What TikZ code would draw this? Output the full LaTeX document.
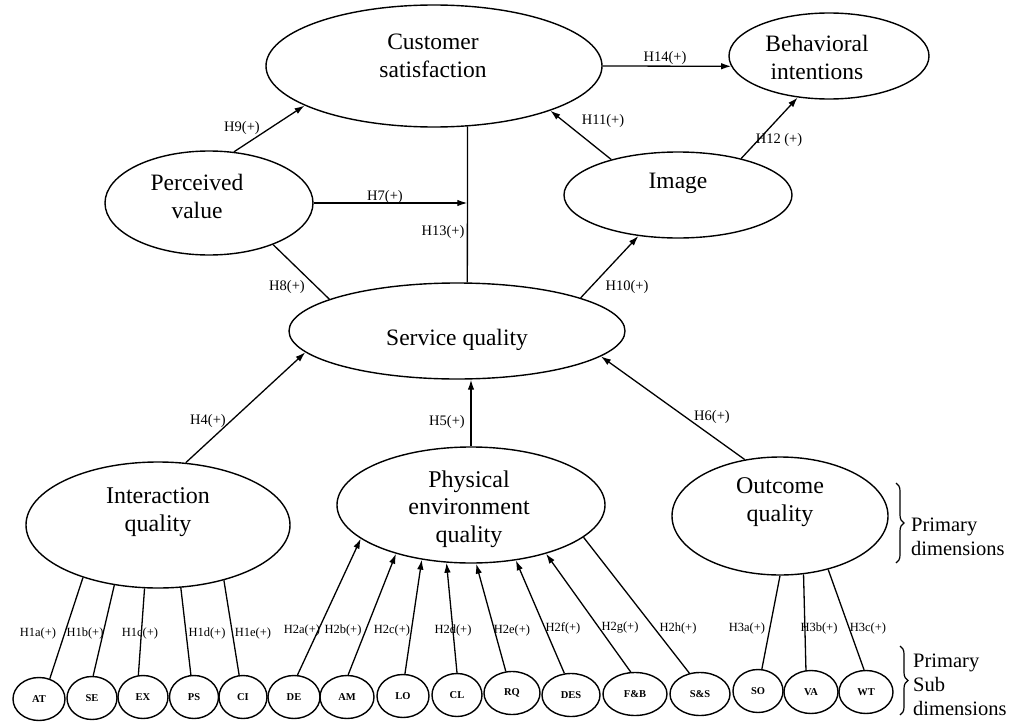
\documentclass[tikz,border=0pt]{standalone}
\usepackage{fontspec}
\setmainfont{Liberation Serif}
\usetikzlibrary{arrows.meta,decorations.pathreplacing,shapes.geometric}
\begin{document}
\begin{tikzpicture}[x=1pt,y=-1pt,
  ell/.style={draw,ellipse,line width=1.4pt,inner sep=0pt},
  big/.style={font=\fontsize{23.5}{28}\selectfont,align=center,inner sep=0pt},
  mid/.style={font=\fontsize{24}{28.5}\selectfont,align=center,inner sep=0pt},
  sub/.style={draw,ellipse,line width=1.4pt,inner sep=0pt,minimum height=43pt,font=\fontsize{10.5}{12}\selectfont\bfseries},
  conn/.style={line width=1.3pt},
  arr/.style={conn,-{Latex[length=10pt,width=6.5pt]}},
  hl/.style={font=\fontsize{14.5}{16}\selectfont,inner sep=0pt},
  sl/.style={font=\fontsize{12.5}{14}\selectfont,inner sep=0pt},
  side/.style={anchor=west,align=left,font=\fontsize{20.5}{24}\selectfont,inner sep=0pt},
]
\useasboundingbox (0,0) rectangle (1015,728);

% main constructs
\node[ell,minimum width=336pt,minimum height=122pt] (CS) at (434,66) {};
\node[big] (CSt) at (433,56) {Customer\\satisfaction};
\node[ell,minimum width=200pt,minimum height=86pt] (BI) at (829,56) {};
\node[big] (BIt) at (817,57) {Behavioral\\intentions};
\node[ell,minimum width=208pt,minimum height=104pt] (PV) at (209,203) {};
\node[big] (PVt) at (197,196) {Perceived\\value};
\node[ell,minimum width=228pt,minimum height=86pt] (IM) at (678,195) {};
\node[big] (IMt) at (678,183) {Image};
\node[ell,minimum width=336pt,minimum height=96pt] (SQ) at (457,331) {};
\node[big] (SQt) at (457,340) {Service quality};

% primary dimensions
\node[ell,minimum width=264pt,minimum height=126pt] (IQ) at (158,525) {};
\node[mid] (IQt) at (158,512) {Interaction\\quality};
\node[ell,minimum width=268pt,minimum height=116pt] (PE) at (471,505) {};
\node[mid,font=\fontsize{24}{27.5}\selectfont] (PEt) at (469,509) {Physical\\environment\\quality};
\node[ell,minimum width=216pt,minimum height=118pt] (OQ) at (780,516) {};
\node[mid] (OQt) at (780,502) {Outcome\\quality};

% sub dimensions
\node[sub,minimum width=52pt] (AT) at (39,699) {AT};
\node[sub,minimum width=50pt] (SE) at (92,698) {SE};
\node[sub,minimum width=50pt] (EX) at (143,697) {EX};
\node[sub,minimum width=49pt] (PS) at (194,697) {PS};
\node[sub,minimum width=48pt] (CI) at (243,697) {CI};
\node[sub,minimum width=52pt] (DE) at (294,697) {DE};
\node[sub,minimum width=54pt] (AM) at (347,697) {AM};
\node[sub,minimum width=52pt] (LO) at (403,696) {LO};
\node[sub,minimum width=50pt] (CL) at (457,695) {CL};
\node[sub,minimum width=56pt] (RQ) at (512,693) {RQ};
\node[sub,minimum width=58pt] (DES) at (571,695) {DES};
\node[sub,minimum width=64pt] (FB) at (635,694) {F\&B};
\node[sub,minimum width=60pt] (SS) at (700,694) {S\&S};
\node[sub,minimum width=50pt] (SO) at (758,691) {SO};
\node[sub,minimum width=54pt] (VA) at (811,692) {VA};
\node[sub,minimum width=54pt] (WT) at (866,692) {WT};

% upper structural paths
\draw[arr] (PV.64) -- (CS.197.5);
\draw[arr] (PV.east) -- (PV.east -| SQ.78);
\draw[conn] (SQ.78) -- (CS.299);
\draw[conn] (PV.327) -- (SQ.166);
\draw[arr] (IM.152) -- (CS.339);
\draw[arr] (IM.30) -- (BI.233);
\draw[arr] (SQ.15.5) -- (IM.226);
\draw[arr] (CS.east) -- (BI.186);
\draw[arr] (IQ.66.5) -- (SQ.188.7);
\draw[arr] (PE.north) -- (PE.north |- SQ.south);
\draw[arr] (OQ.122) -- (SQ.350.6);

% labels upper
\node[hl] (l9) at (242,128) {H9(+)};
\node[hl] (l7) at (385,197) {H7(+)};
\node[hl] (l13) at (443,232) {H13(+)};
\node[hl] (l8) at (287,287) {H8(+)};
\node[hl] (l10) at (627,287) {H10(+)};
\node[hl] (l11) at (603,121) {H11(+)};
\node[hl] (l12) at (779,140) {H12 (+)};
\node[hl] (l14) at (665,58) {H14(+)};
\node[hl] (l4) at (208,421) {H4(+)};
\node[hl] (l5) at (447,422) {H5(+)};
\node[hl] (l6) at (712,417) {H6(+)};

% lower paths
\draw[conn] (AT.62) -- (IQ.215);
\draw[conn] (SE.87) -- (IQ.234);
\draw[conn] (EX.102) -- (IQ.258);
\draw[conn] (PS.98) -- (IQ.290);
\draw[conn] (CI.100) -- (IQ.320);
\draw[arr] (DE.81) -- (PE.197.6);
\draw[arr] (AM.87) -- (PE.213.4);
\draw[arr] (LO.85) -- (PE.228.3);
\draw[arr] (CL.90) -- (PE.247.2);
\draw[arr] (RQ.106) -- (PE.275);
\draw[arr] (DES.107) -- (PE.309.3);
\draw[arr] (FB.101) -- (PE.327.3);
\draw[conn] (SS.117) -- (PE.344.9);
\draw[conn] (SO.80) -- (OQ.270);
\draw[conn] (VA.103) -- (OQ.292);
\draw[conn] (WT.95) -- (OQ.312);

% lower labels
\node[sl] (a1) at (38,633) {H1a(+)};
\node[sl] (b1) at (85,633) {H1b(+)};
\node[sl] (c1) at (140,633) {H1c(+)};
\node[sl] (d1) at (207,633) {H1d(+)};
\node[sl] (e1) at (253,633) {H1e(+)};
\node[sl] (a2) at (302,630) {H2a(+)};
\node[sl] (b2) at (343,630) {H2b(+)};
\node[sl] (c2) at (392,630) {H2c(+)};
\node[sl] (d2) at (453,630) {H2d(+)};
\node[sl] (e2) at (512,630) {H2e(+)};
\node[sl] (f2) at (563,628) {H2f(+)};
\node[sl] (g2) at (620,628) {H2g(+)};
\node[sl] (h2) at (678,628) {H2h(+)};
\node[sl] (a3) at (747,628) {H3a(+)};
\node[sl] (b3) at (819,628) {H3b(+)};
\node[sl] (c3) at (868,628) {H3c(+)};

% braces
\draw[line width=1.2pt,decorate,decoration={brace,amplitude=8pt}] (896,483) -- (896,563);
\node[side] (pd) at (911,537) {Primary\\dimensions};
\draw[line width=1.2pt,decorate,decoration={brace,amplitude=8pt}] (900,646) -- (900,715);
\node[side] (psd) at (913,685) {Primary\\Sub\\dimensions};
\end{tikzpicture}
\end{document}
